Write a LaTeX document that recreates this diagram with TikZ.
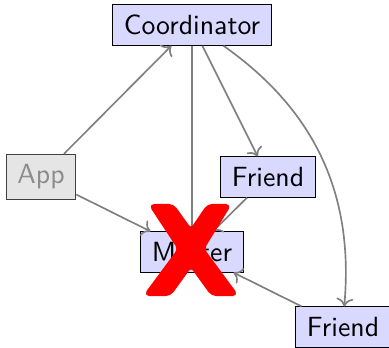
\documentclass[tikz,border=0pt]{standalone}
\usetikzlibrary{arrows.meta}
\begin{document}
\begin{tikzpicture}[x=0.36pt,y=-0.36pt,
  box/.style={draw=black, fill=blue!15, font=\sffamily, inner xsep=4pt, inner ysep=3.7pt},
  appbox/.style={draw=black!75, fill=black!10, text=black!45, font=\sffamily, inner xsep=4pt, inner ysep=3.7pt},
  conn/.style={draw=gray, semithick, ->}]
\useasboundingbox (0,0) rectangle (389,348);
\node[box] (coord) at (192,25) {Coordinator};
\node[appbox] (app) at (41,177) {App};
\node[box] (f1) at (268,177) {Friend};
\node[box] (master) at (192,252) {Master};
\node[box] (f2) at (343,327) {Friend};
\draw[conn] (app) -- (coord);
\draw[conn] (app) -- (master);
\draw[conn] (coord) -- (master);
\draw[conn] (coord) -- (f1);
\draw[conn] (coord) to[bend left=30] (f2);
\draw[conn] (f1) -- (master);
\draw[conn] (f2) -- (master);
\filldraw[red, line width=0.8pt, line join=round, rounded corners=1.6pt]
  (150,205) -- (173,205) -- (191,230) -- (208,205) -- (230,205) -- (203,249)
  -- (237,295) -- (212,295) -- (191,266) -- (170,295) -- (145,295) -- (179,249) -- cycle;
\end{tikzpicture}
\end{document}
